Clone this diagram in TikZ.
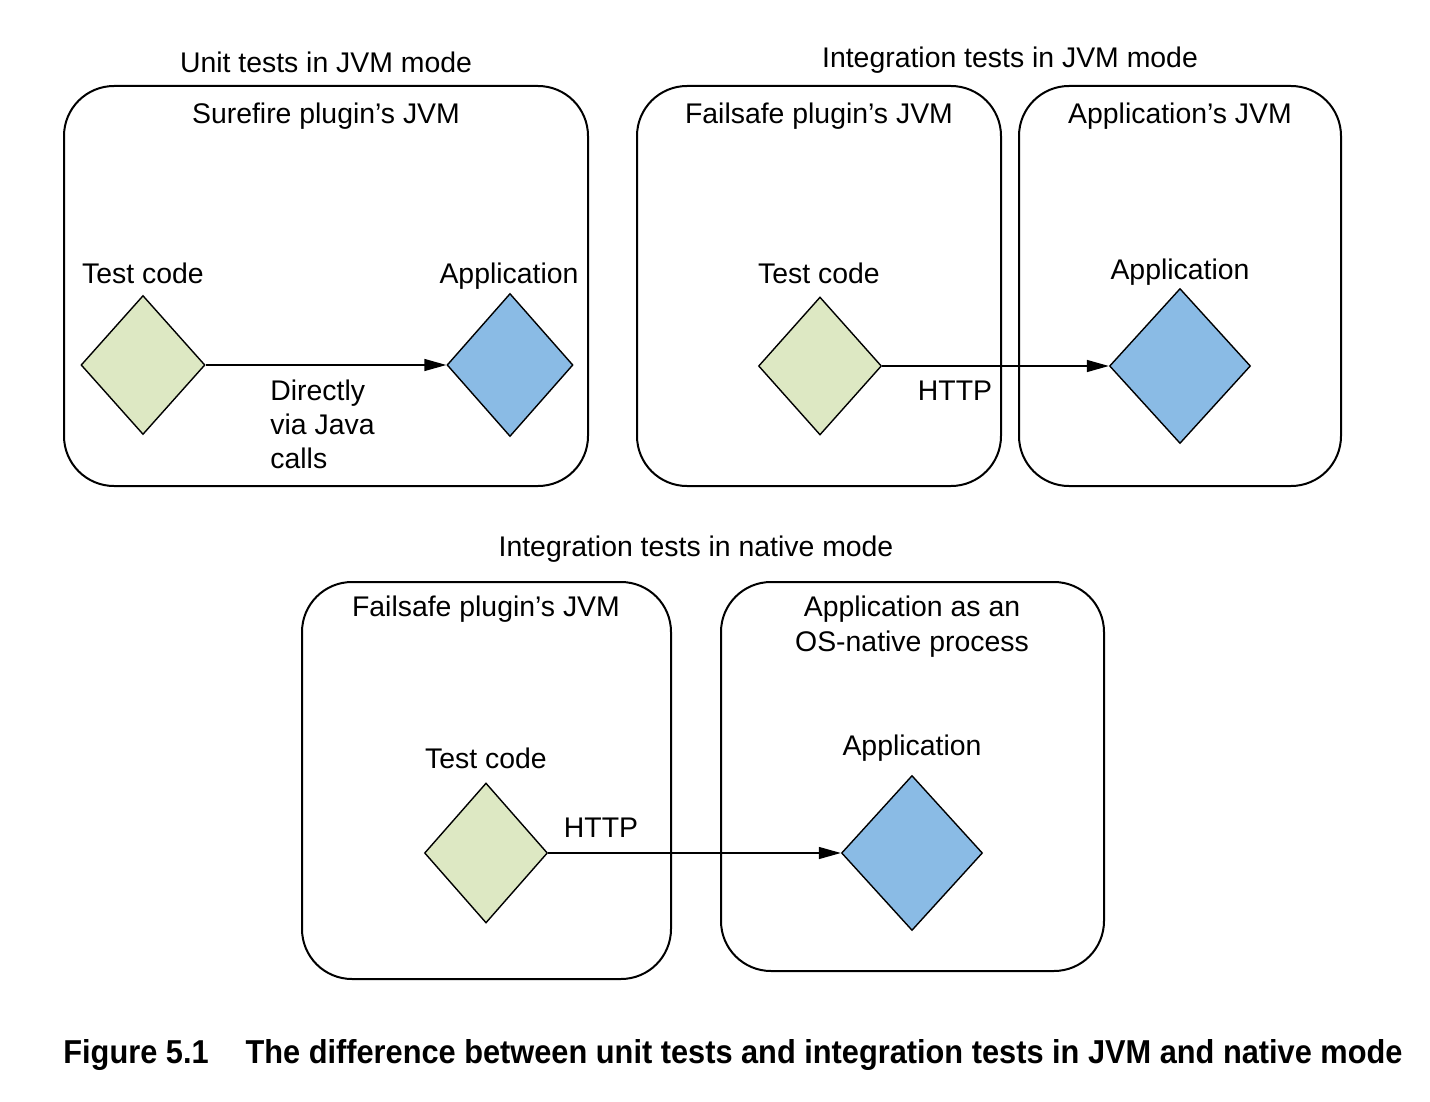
\documentclass[tikz,border=0pt]{standalone}
\usepackage{fontspec}
\setmainfont{Liberation Sans}
\usetikzlibrary{shapes.geometric,arrows.meta}
\definecolor{dgreen}{HTML}{DDE8C3}
\definecolor{dblue}{HTML}{8ABBE5}
\begin{document}
\begin{tikzpicture}[x=0.5pt,y=-0.5pt,
  box/.style={draw, line width=1pt, rounded corners=25pt, inner sep=0pt},
  dia/.style={draw, line width=0.7pt, diamond, aspect=1, inner sep=0pt},
  tc/.style={dia, fill=dgreen},
  app/.style={dia, fill=dblue},
  lbl/.style={anchor=base, inner sep=0pt, font=\fontsize{14.2}{17}\selectfont},
  conn/.style={line width=0.7pt, -{Triangle[length=11pt,width=6pt]}}]
\useasboundingbox (0,0) rectangle (1430,1102);
% boxes
\node[box, minimum width=262pt, minimum height=200pt] (b1) at (326,286) {};
\node[box, minimum width=182pt, minimum height=200pt] (b2) at (819,286) {};
\node[box, minimum width=161pt, minimum height=200pt] (b3) at (1180,286) {};
\node[box, minimum width=184.5pt, minimum height=198.5pt] (b4) at (486.5,780.5) {};
\node[box, minimum width=191.5pt, minimum height=194.5pt] (b5) at (912.5,776.5) {};
% titles
\node[lbl] (t1) at (326,73) {Unit tests in JVM mode};
\node[lbl] (t2) at (1010,68) {Integration tests in JVM mode};
\node[lbl] (t3) at (696,556) {Integration tests in native mode};
\node[lbl] (l1) at (326,124) {Surefire plugin’s JVM};
\node[lbl] (l2) at (819,124) {Failsafe plugin’s JVM};
\node[lbl] (l3) at (1180,124) {Application’s JVM};
\node[lbl] (l4) at (486,616) {Failsafe plugin’s JVM};
\node[lbl] (l5a) at (912,616) {Application as an};
\node[lbl] (l5b) at (912,651) {OS-native process};
% diamonds
\node[tc, minimum width=62pt, minimum height=69.5pt] (d1) at (143,365) {};
\node[app, minimum width=63pt, minimum height=71.5pt] (d2) at (510,365) {};
\node[tc, minimum width=61.5pt, minimum height=69pt] (d3) at (820,366) {};
\node[app, minimum width=70.5pt, minimum height=77.5pt] (d4) at (1180,366) {};
\node[tc, minimum width=61.5pt, minimum height=70pt] (d5) at (486,853) {};
\node[app, minimum width=70.5pt, minimum height=77.5pt] (d6) at (912,853) {};
% diamond labels
\node[lbl] (n1) at (143,283) {Test code};
\node[lbl] (n2) at (509,283) {Application};
\node[lbl] (n3) at (819,283) {Test code};
\node[lbl] (n4) at (1180,279) {Application};
\node[lbl] (n5) at (486,768) {Test code};
\node[lbl] (n6) at (912,755) {Application};
% connectors
\draw[conn] (d1.east) -- (d2.west);
\draw[conn] (d3.east) -- (d4.west);
\draw[conn] (d5.east) -- (d6.west);
\node[lbl, anchor=base west] (c1) at (270,400) {Directly};
\node[lbl, anchor=base west] (c2) at (270,434) {via Java};
\node[lbl, anchor=base west] (c3) at (270,468) {calls};
\node[lbl] (h1) at (955,400) {HTTP};
\node[lbl] (h2) at (601,837) {HTTP};
% caption
\node[anchor=base west, inner sep=0pt] (cap) at (63,1063)
  {\resizebox{669.5pt}{12pt}{\bfseries Figure 5.1\hspace{1.2em}The difference between unit tests and integration tests in JVM and native mode}};
\end{tikzpicture}
\end{document}
